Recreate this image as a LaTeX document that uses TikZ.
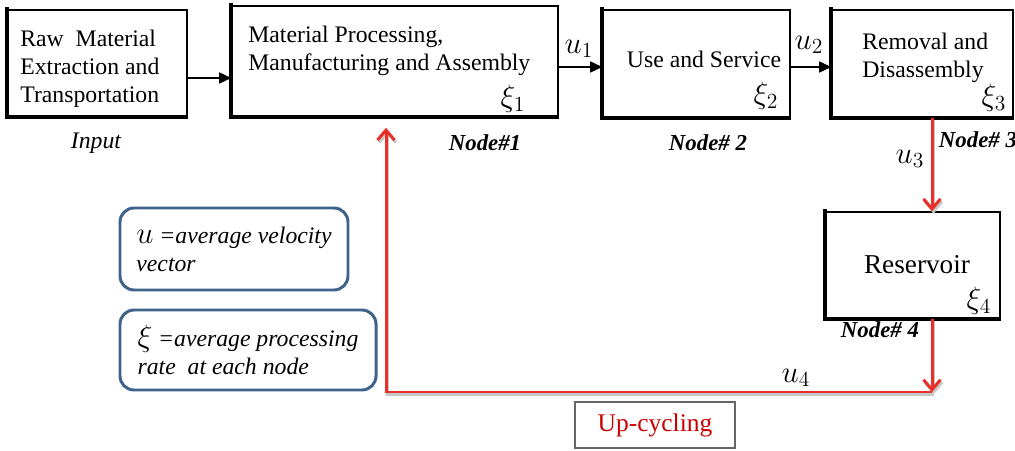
\documentclass[tikz,border=0pt]{standalone}
\usepackage{fix-cm}
\usepackage{fontspec}
\setmainfont{Liberation Serif}
\usetikzlibrary{arrows.meta}

\definecolor{flowred}{RGB}{232,48,40}
\definecolor{legblue}{RGB}{62,98,140}

\newcommand{\bigsym}[1]{{\fontsize{17.5}{16}\selectfont$#1$}}

\begin{document}
\begin{tikzpicture}[
        font=\fontsize{13.5}{16}\selectfont,
        stage/.style={draw, line width=0.9pt, fill=white, inner sep=0pt},
        txt/.style={align=left, inner sep=0pt},
        sym/.style={font=\fontsize{17.5}{20}\selectfont, inner sep=1pt},
        legend/.style={draw=legblue, line width=1.7pt, rounded corners=8pt, align=left,
            font=\fontsize{13.5}{16}\selectfont\itshape, inner sep=5pt},
        tag/.style={font=\fontsize{13}{15}\selectfont\bfseries\itshape},
        flow/.style={-{Triangle[length=2.4mm,width=2.2mm]}, line width=0.9pt},
        back/.style={draw=flowred, line width=1.7pt,
            preaction={draw=black!22, line width=1.7pt, transform canvas={shift={(0.03,-0.05)}}}},
        backarr/.style={back, -{Straight Barb[length=2mm,width=3.4mm,line width=1.7pt]}}]

    \useasboundingbox (0,0) rectangle (20.30,9.00);

    % ---------- life-cycle stages ----------
    \node[stage, minimum width=3.58cm, minimum height=2.12cm] (raw) at (1.95,7.74) {};
    \node[stage, minimum width=6.52cm, minimum height=2.20cm] (mfg) at (7.90,7.78) {};
    \node[stage, minimum width=3.74cm, minimum height=2.14cm] (use) at (13.93,7.73) {};
    \node[stage, minimum width=3.62cm, minimum height=2.14cm] (rem) at (18.45,7.73) {};
    \node[stage, minimum width=3.48cm, minimum height=2.12cm] (res) at (18.26,3.70) {};

    % heavy left and bottom edges
    \foreach \b in {raw,mfg,use,rem,res}
        \draw[line width=2.4pt] ([yshift=0.04cm]\b.north west) -- (\b.south west) -- (\b.south east);

    \node[txt, anchor=west] (rawtxt) at (0.40,7.62) {Raw\ \ Material\\Extraction and\\Transportation};
    \node[txt, anchor=west] (mfgtxt) at (4.96,7.98) {Material Processing,\\Manufacturing and Assembly};
    \node[txt] (usetxt) at (14.08,7.82) {Use and Service};
    \node[txt, anchor=west] (remtxt) at (17.24,7.85) {Removal and\\Disassembly};
    \node[txt, font=\fontsize{15.5}{18}\selectfont] (restxt) at (18.34,3.70) {Reservoir};

    % processing rates
    \node[sym] (x1) at (10.26,7.02) {$\xi_1$};
    \node[sym] (x2) at (15.32,7.08) {$\xi_2$};
    \node[sym] (x3) at (19.88,7.04) {$\xi_3$};
    \node[sym] (x4) at (19.58,2.98) {$\xi_4$};

    % node tags
    \node[font=\fontsize{13.5}{16}\selectfont\itshape] (inp) at (1.92,6.14) {Input};
    \node[tag] (t1) at (9.70,6.14) {Node\#1};
    \node[tag] (t2) at (14.16,6.14) {Node\# 2};
    \node[tag] (t3) at (19.56,6.20) {Node\# 3};
    \node[tag] (t4) at (17.60,2.40) {Node\# 4};

    % ---------- forward flow ----------
    \draw[flow] ([yshift=-0.30cm]raw.east) -- ([yshift=-0.30cm]raw.east -| mfg.west);
    \draw[flow] ([yshift=-0.12cm]mfg.east) -- ([yshift=-0.12cm]mfg.east -| use.west);
    \draw[flow] ([yshift=-0.07cm]use.east) -- ([yshift=-0.07cm]use.east -| rem.west);
    \node[sym] (u1) at (11.58,8.02) {$u_1$};
    \node[sym] (u2) at (16.18,8.10) {$u_2$};

    % ---------- up-cycling loop ----------
    \coordinate (drop) at (18.64,1.16);
    \coordinate (turn) at (7.72,1.16);
    \draw[backarr] ([xshift=0.19cm]rem.south) -- ([xshift=0.19cm]rem.south |- res.north);
    \draw[backarr] (drop |- res.south) -- (drop);
    \draw[back, -{Straight Barb[length=2mm,width=3.4mm,line width=1.7pt]}, shorten >=0.22cm]
        (drop) -- (turn) -- (turn |- mfg.south);
    \node[sym] (u3) at (18.20,5.82) {$u_3$};
    \node[sym] (u4) at (15.92,1.44) {$u_4$};

    \node[draw=black!60, line width=0.6pt, minimum width=3.2cm, minimum height=0.92cm,
        text=red!80!black, font=\fontsize{14.5}{17}\selectfont] (up) at (13.10,0.50) {Up-cycling};

    % ---------- legend ----------
    \node[legend, minimum width=4.56cm, minimum height=1.64cm] (lu) at (4.68,4.02)
        {\bigsym{u} =average velocity\\vector};
    \node[legend, minimum width=5.12cm, minimum height=1.60cm] (lx) at (4.96,2.00)
        {\bigsym{\xi} =average processing\\rate\ \ at each node};
\end{tikzpicture}
\end{document}
